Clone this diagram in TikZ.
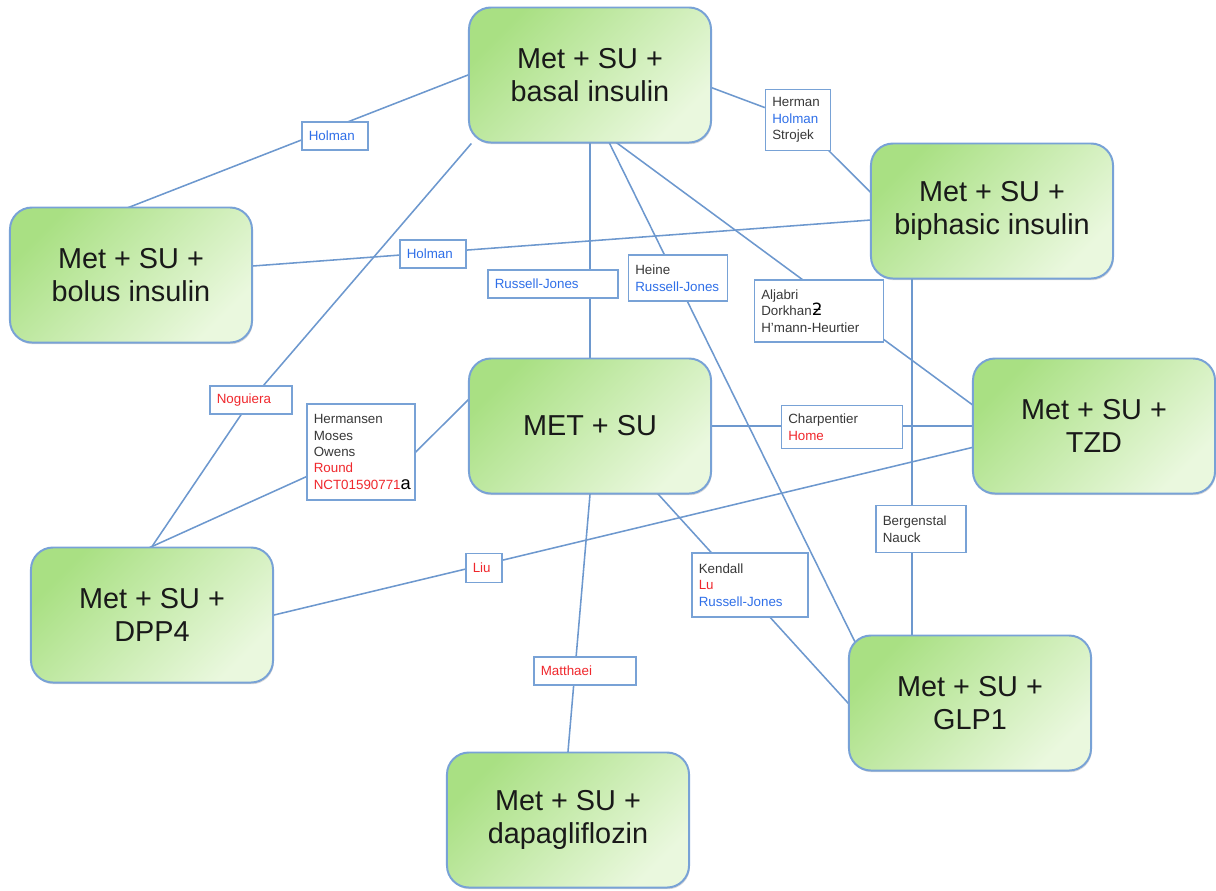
\documentclass[tikz,border=0pt]{standalone}
\usepackage{fontspec}
\setmainfont{Liberation Sans}
\newfontfamily\dejavu{DejaVu Sans}
\usepackage{tikz}
\usetikzlibrary{shapes,shadows}
\pgfdeclarelayer{background}
\pgfsetlayers{background,main}

\definecolor{edgeblue}{HTML}{6D98CE}
\definecolor{boxblue}{HTML}{78A2D6}
\definecolor{greentop}{HTML}{A9E083}
\definecolor{greenbot}{HTML}{EAF8DE}
\definecolor{refblue}{HTML}{2F6FE8}
\definecolor{refred}{HTML}{F0282D}
\definecolor{refgray}{HTML}{383838}

\newcommand{\blu}[1]{\textcolor{refblue}{#1}}
\newcommand{\rd}[1]{\textcolor{refred}{#1}}

\tikzset{
  regimen/.style={draw=boxblue,line width=1.4pt,rounded corners=0.55cm,minimum width=6.05cm,minimum height=3.375cm,
    align=center,top color=greentop,bottom color=greenbot,shading angle=45,text=black!90,
    font=\fontsize{20.5}{23.5}\selectfont,drop shadow={shadow xshift=0.6pt,shadow yshift=-1.2pt,opacity=0.3}},
  trial/.style={draw=boxblue,line width=1pt,fill=white,align=left,inner xsep=0.17cm,inner ysep=0pt,
    text=refgray,font=\fontsize{9.5}{11.7}\selectfont},
  link/.style={draw=edgeblue,line width=1.1pt,shorten <=-9pt,shorten >=-9pt}
}

\begin{document}
\begin{tikzpicture}[x=0.025cm,y=-0.025cm]
        \useasboundingbox (0,0) rectangle (1216,890);

        % treatment regimens
        \node[regimen] (basal) at (590,75) {Met + SU +\\basal insulin};
        \node[regimen] (bolus) at (131,275) {Met + SU +\\bolus insulin};
        \node[regimen] (biph) at (992,211) {Met + SU +\\biphasic insulin};
        \node[regimen] (met) at (590,426) {MET + SU};
        \node[regimen] (tzd) at (1094,426) {Met + SU +\\TZD};
        \node[regimen] (dpp) at (152,615) {Met + SU +\\DPP4};
        \node[regimen] (glp) at (970,703) {Met + SU +\\GLP1};
        \node[regimen] (dapa) at (568,820) {Met + SU +\\dapagliflozin};

        % trials
        \node[trial,text width=1.31cm,minimum height=0.7cm] (holA) at (335,136) {\blu{Holman}};
        \node[trial,text width=1.31cm,minimum height=0.7cm] (holB) at (433,254) {\blu{Holman}};
        \node[trial,text width=1.285cm,minimum height=1.525cm] (herm) at (798,120) {Herman\\\blu{Holman}\\Strojek};
        \node[trial,text width=2.91cm,minimum height=0.7cm] (rjA) at (553,284) {\blu{Russell-Jones}};
        \node[trial,text width=2.135cm,minimum height=1.15cm] (heine) at (678,278) {Heine\\\blu{Russell-Jones}};
        \node[trial,text width=2.885cm,minimum height=1.55cm] (aljabri) at (819,311) {Aljabri\\Dorkhan{\dejavu\color{black}\fontsize{12}{11.7}\selectfont ƻ}\\H'mann-Heurtier};
        \node[trial,text width=1.71cm,minimum height=0.7cm] (nog) at (251,400) {\rd{Noguiera}};
        \node[trial,text width=2.36cm,minimum height=2.4cm] (hrm) at (361,452) {Hermansen\\Moses\\Owens\\\rd{Round}\\\rd{NCT01590771}{\color{black}\fontsize{13}{11.7}\selectfont a}};
        \node[trial,text width=2.685cm,minimum height=1.075cm] (charp) at (842,427) {Charpentier\\\rd{Home}};
        \node[trial,text width=1.91cm,minimum height=1.175cm] (berg) at (921,529) {Bergenstal\\Nauck};
        \node[trial,text width=2.56cm,minimum height=1.6cm] (kend) at (750,585) {Kendall\\\rd{Lu}\\\blu{Russell-Jones}};
        \node[trial,text width=0.56cm,minimum height=0.725cm] (liu) at (484,568) {\rd{Liu}};
        \node[trial,text width=2.21cm,minimum height=0.7cm] (matt) at (585,671) {\rd{Matthaei}};

        \begin{pgfonlayer}{background}
            \draw[link] (bolus.north) -- (basal.west);
            \draw[link] (bolus) -- (biph);
            \draw[link] (basal.-150) -- (nog) -- (dpp.north);
            \draw[link] (basal.-6) -- (herm) -- (biph.171);
            \draw[link] (basal) -- (met);
            \draw[link] (basal.-74) -- (glp.150);
            \draw[link] (basal.-68) -- (tzd.170);
            \draw[link] (met.168) -- (hrm.east);
            \draw[link] (hrm) -- (dpp.north);
            \draw[link] (met) -- (tzd);
            \draw[link] ([xshift=1.05cm]biph.south west) -- ([xshift=1.6cm]glp.north west);
            \draw[link] (dpp.east) -- (tzd.190);
            \draw[link] (met.-45) -- (glp.west);
            \draw[link] (met.south) -- (dapa.north);
        \end{pgfonlayer}
    \end{tikzpicture}
\end{document}
